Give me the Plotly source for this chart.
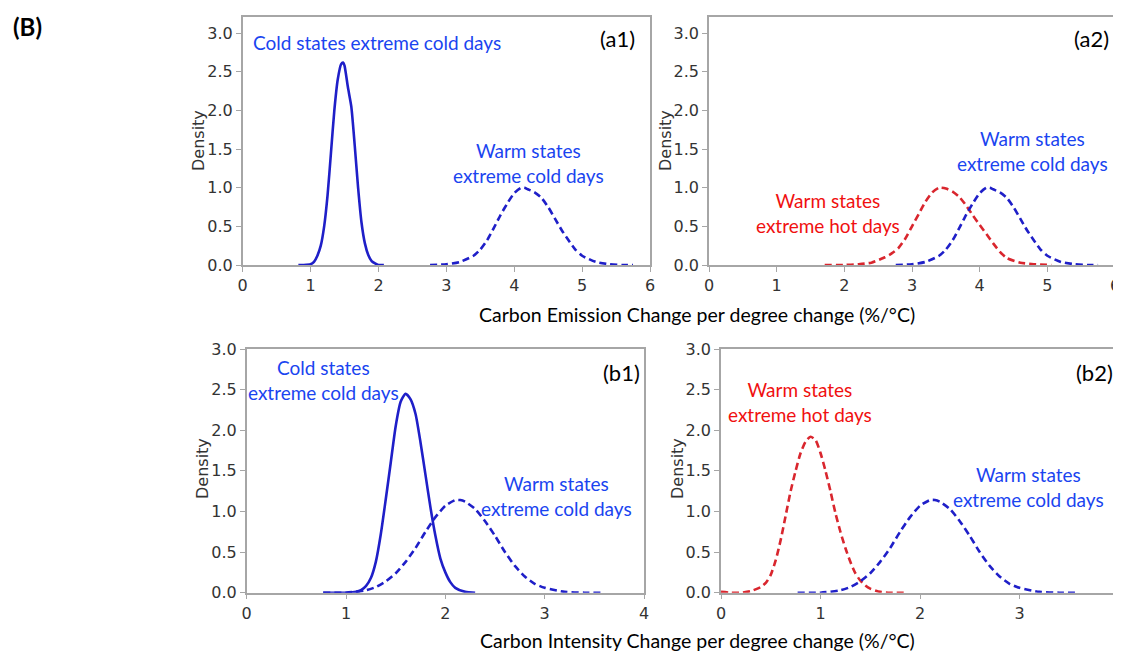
import plotly.graph_objects as go

# ---------------- data ----------------
# (a1)/(a2) Carbon emission change per degree change
a_cold_cold_x = [0.82, 0.9, 1.0, 1.05, 1.1, 1.15, 1.2, 1.25, 1.3, 1.35, 1.4, 1.45, 1.48, 1.5, 1.55,
                 1.6, 1.65, 1.7, 1.75, 1.8, 1.85, 1.9, 1.95, 2.0, 2.08]
a_cold_cold_y = [0.0, 0.0, 0.01, 0.04, 0.12, 0.25, 0.5, 0.9, 1.45, 2.0, 2.4, 2.6, 2.62, 2.58, 2.3,
                 2.05, 1.55, 1.0, 0.55, 0.28, 0.13, 0.05, 0.02, 0.0, 0.0]

a_warm_cold_x = [2.76, 3.0, 3.2, 3.4, 3.5, 3.6, 3.7, 3.8, 3.9, 4.0, 4.1, 4.15, 4.2, 4.3, 4.4, 4.5,
                 4.6, 4.7, 4.8, 4.9, 5.0, 5.2, 5.4, 5.6, 5.75]
a_warm_cold_y = [0.0, 0.01, 0.04, 0.12, 0.2, 0.32, 0.48, 0.65, 0.8, 0.93, 1.0, 1.0, 0.98, 0.94, 0.87,
                 0.75, 0.6, 0.45, 0.32, 0.2, 0.12, 0.04, 0.01, 0.0, 0.0]

a_warm_hot_x = [1.71, 2.0, 2.2, 2.4, 2.6, 2.7, 2.8, 2.9, 3.0, 3.1, 3.2, 3.3, 3.4, 3.5, 3.6, 3.7,
                3.8, 3.9, 4.0, 4.1, 4.2, 4.3, 4.4, 4.6, 4.8, 5.06]
a_warm_hot_y = [0.0, 0.0, 0.01, 0.03, 0.1, 0.15, 0.22, 0.34, 0.5, 0.66, 0.82, 0.94, 1.0, 0.99, 0.95,
                0.88, 0.77, 0.64, 0.52, 0.4, 0.28, 0.17, 0.09, 0.03, 0.01, 0.0]

# (b1)/(b2) Carbon intensity change per degree change
b_cold_cold_x = [0.77, 0.9, 1.0, 1.1, 1.15, 1.2, 1.25, 1.3, 1.35, 1.4, 1.45, 1.5, 1.55, 1.6, 1.65,
                 1.7, 1.75, 1.8, 1.85, 1.9, 1.95, 2.0, 2.05, 2.1, 2.2, 2.3]
b_cold_cold_y = [0.0, 0.0, 0.0, 0.01, 0.03, 0.08, 0.18, 0.38, 0.72, 1.15, 1.6, 2.05, 2.35, 2.45, 2.38,
                 2.2, 1.85, 1.45, 1.05, 0.7, 0.42, 0.25, 0.13, 0.06, 0.01, 0.0]

b_warm_cold_x = [0.77, 1.0, 1.2, 1.3, 1.4, 1.5, 1.6, 1.7, 1.8, 1.9, 2.0, 2.1, 2.15, 2.2, 2.3, 2.4,
                 2.5, 2.6, 2.7, 2.8, 2.9, 3.0, 3.2, 3.4, 3.59]
b_warm_cold_y = [0.0, 0.0, 0.03, 0.07, 0.14, 0.24, 0.38, 0.55, 0.75, 0.93, 1.07, 1.14, 1.14, 1.12, 1.03,
                 0.88, 0.7, 0.5, 0.33, 0.2, 0.11, 0.06, 0.01, 0.0, 0.0]

b_warm_hot_x = [0.0, 0.1, 0.2, 0.3, 0.4, 0.45, 0.5, 0.55, 0.6, 0.65, 0.7, 0.75, 0.8, 0.85, 0.9, 0.95,
                1.0, 1.05, 1.1, 1.15, 1.2, 1.25, 1.3, 1.35, 1.4, 1.45, 1.5, 1.6, 1.7, 1.86]
b_warm_hot_y = [0.01, 0.0, 0.0, 0.02, 0.07, 0.12, 0.22, 0.4, 0.65, 0.95, 1.25, 1.5, 1.72, 1.86, 1.92, 1.88,
                1.72, 1.5, 1.25, 0.98, 0.75, 0.55, 0.38, 0.24, 0.15, 0.09, 0.05, 0.01, 0.0, 0.0]

a_x_ticks = [0, 1, 2, 3, 4, 5, 6]
b_x_ticks = [0, 1, 2, 3, 4]
y_ticks = [0.0, 0.5, 1.0, 1.5, 2.0, 2.5, 3.0]

panel_labels = ["(a1)", "(a2)", "(b1)", "(b2)"]
x_title_top = "Carbon Emission Change per degree change (%/\u00b0C)"
x_title_bottom = "Carbon Intensity Change per degree change (%/\u00b0C)"

# ---------------- styling ----------------
OFF = 8  # page body margin offset
W, H = 1121 - OFF, 652 - OFF
BLUE_LINE = "#1f1fc8"
RED_LINE = "#d9262e"
BLUE_TXT = "#1a44f0"
RED_TXT = "#f01010"
GRID = "#a6a6a6"
TXT_FONT = "Lato, 'Open Sans', sans-serif"
TICK_FONT = "'DejaVu Sans', sans-serif"


def px(x):
    return (x - OFF) / W


def py(y):
    return 1 - (y - OFF) / H


fig = go.Figure()


def add_line(x, y, color, dash, ax):
    fig.add_trace(go.Scatter(x=x, y=y, mode="lines", xaxis="x" + ax, yaxis="y" + ax,
                             line=dict(color=color, width=2.6, dash=dash, shape="spline", smoothing=0.6),
                             showlegend=False, hoverinfo="skip"))


DASH = "7px,4px"
add_line(a_cold_cold_x, a_cold_cold_y, BLUE_LINE, "solid", "")
add_line(a_warm_cold_x, a_warm_cold_y, BLUE_LINE, DASH, "")
add_line(a_warm_hot_x, a_warm_hot_y, RED_LINE, DASH, "2")
add_line(a_warm_cold_x, a_warm_cold_y, BLUE_LINE, DASH, "2")
add_line(b_cold_cold_x, b_cold_cold_y, BLUE_LINE, "solid", "3")
add_line(b_warm_cold_x, b_warm_cold_y, BLUE_LINE, DASH, "3")
add_line(b_warm_hot_x, b_warm_hot_y, RED_LINE, DASH, "4")
add_line(b_warm_cold_x, b_warm_cold_y, BLUE_LINE, DASH, "4")

# panel domains in pixels: (left, right, top, bottom)
panels = [
    (242.7, 650.0, 17.0, 265.0, 6, 3.21),
    (709.0, 1115.0, 17.0, 265.0, 6, 3.21),
    (246.7, 644.0, 349.0, 592.7, 4, 3.0),
    (721.0, 1119.0, 349.0, 592.7, 4, 3.0),
]

for i, (l, r, t, b, xmax, ymax) in enumerate(panels):
    suf = "" if i == 0 else str(i + 1)
    xt = a_x_ticks if xmax == 6 else b_x_ticks
    common = dict(showline=True, linecolor=GRID, linewidth=1.5, mirror=True, ticks="outside",
                  ticklen=5, tickwidth=1.2, tickcolor=GRID, showgrid=False, zeroline=False,
                  automargin=False, ticklabeloverflow="allow",
                  tickfont=dict(family=TICK_FONT, size=16, color="#333333"))
    fig.layout["xaxis" + suf] = dict(domain=[px(l), px(r)], range=[0, xmax], tickvals=xt,
                                     anchor="y" + suf, **common)
    fig.layout["yaxis" + suf] = dict(domain=[py(b), py(t)], range=[0, ymax], tickvals=y_ticks,
                                     tickformat=".1f", anchor="x" + suf, **common)

annotations = []


def note(text, x, y, color="black", size=19, family=TXT_FONT, angle=0, xanchor="center"):
    annotations.append(dict(text=text, x=px(x), y=py(y), xref="paper", yref="paper",
                            xanchor=xanchor, yanchor="middle", showarrow=False, textangle=angle,
                            font=dict(family=family, size=size, color=color)))


# Density labels
for xpos, ypos in [(198, 141), (665, 141), (202, 469), (677, 469)]:
    note("Density", xpos, ypos, color="#333333", size=16, family=TICK_FONT, angle=-90)

# panel labels
for lab, (xpos, ypos) in zip(panel_labels, [(617, 38), (1091, 38), (621, 372), (1094, 372)]):
    note(lab, xpos, ypos, size=22)

# curve texts
note("Cold states extreme cold days", 377, 42, BLUE_TXT)
note("Warm states<br>extreme cold days", 528, 163, BLUE_TXT)
note("Warm states<br>extreme hot days", 828, 213, RED_TXT)
note("Warm states<br>extreme cold days", 1032, 151, BLUE_TXT)
note("Cold states<br>extreme cold days", 323, 380, BLUE_TXT)
note("Warm states<br>extreme cold days", 556, 496, BLUE_TXT)
note("Warm states<br>extreme hot days", 800, 402, RED_TXT)
note("Warm states<br>extreme cold days", 1028, 487, BLUE_TXT)

# x titles
note(x_title_top, 697, 315, size=19.5)
note(x_title_bottom, 697, 640, size=19.5)

# figure tag
note("<b>(B)</b>", 27, 26, size=24, family=TXT_FONT)

fig.update_layout(width=W, height=H, margin=dict(l=0, r=0, t=0, b=0, autoexpand=False),
                  paper_bgcolor="white", plot_bgcolor="white", annotations=annotations)

fig.write_html("out.html")
